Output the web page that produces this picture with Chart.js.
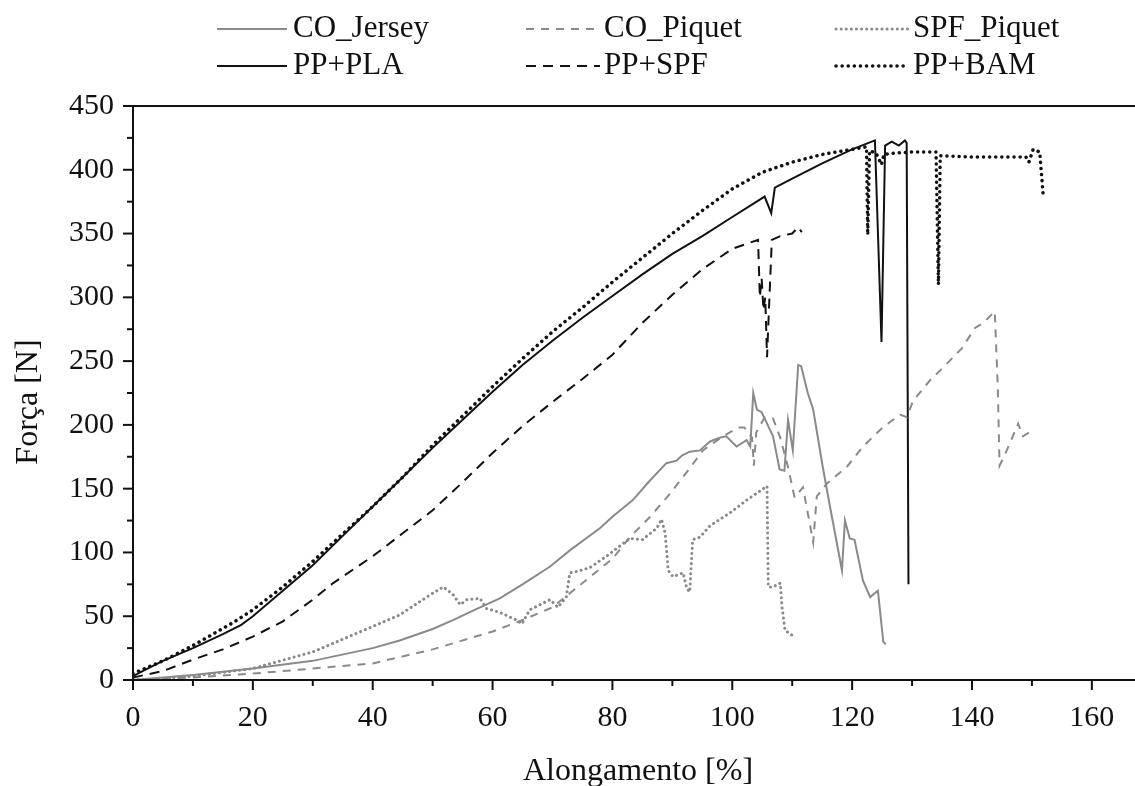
<!DOCTYPE html>
<html lang="pt">
<head>
<meta charset="utf-8">
<title>Força x Alongamento</title>
<script src="https://cdn.jsdelivr.net/npm/chart.js@4/dist/chart.umd.min.js"></script>
<style>
  html, body { margin: 0; padding: 0; background: #fff; }
  #wrap { width: 1135px; height: 786px; }
</style>
</head>
<body>
<div id="wrap"><canvas id="forceChart" width="1135" height="786"></canvas></div>
<script>
/* ================================
   Data
================================ */
const xTicks = [0, 20, 40, 60, 80, 100, 120, 140, 160];
const yTicks = [0, 50, 100, 150, 200, 250, 300, 350, 400, 450];

const coJerseyX = [0, 10, 20, 30, 40, 44.5, 50, 53.4, 57, 61.2, 65, 69.6, 73, 77.9, 80, 83.4, 86, 89, 90.7, 91.6, 92.9, 94.6, 96.3, 97.9, 99, 100.7, 102.4, 103, 103.5, 104.1, 104.9, 106.8, 107.9, 108.7, 109.3, 110.1, 111, 111.5, 112.6, 113.5, 115.1, 116.3, 118.3, 118.8, 119.6, 120.4, 121.8, 123, 124.3, 125.2, 125.6];
const coJerseyY = [0, 4, 9, 15, 25, 31, 40, 47, 55, 64, 75, 89, 102, 119, 128, 141, 155, 170, 172, 176, 179, 180, 187, 190, 191, 183, 188, 183, 225, 212, 210, 191, 165, 164, 204, 180, 247, 246, 225, 212, 167, 136, 86, 125, 111, 110, 78, 65, 70, 30, 28];

const coPiquetX = [0, 10, 20, 30, 40, 50, 60, 65, 70, 75, 80, 82.9, 86.3, 89.6, 92.9, 95.1, 98.4, 101, 102, 103.3, 103.6, 104, 105.4, 106.8, 108, 109.3, 110.4, 111.8, 113.5, 114.1, 115.8, 119.1, 121.8, 125.1, 128, 129.1, 130.2, 133, 135.2, 138.3, 140.5, 141.9, 143.8, 144.3, 144.6, 145.8, 147.7, 148.5, 150.2];
const coPiquetY = [0, 2, 5, 9, 13, 24, 38, 47, 57, 76, 95, 112, 128, 146, 166, 180, 191, 198, 198, 190, 168, 194, 206, 205, 190, 167, 143, 151, 108, 144, 154, 167, 183, 198, 208, 206, 219, 235, 245, 260, 276, 280, 289, 230, 168, 180, 201, 191, 196];

const spfPiquetX = [0, 5, 10, 20, 30, 40, 44.5, 50, 51.8, 53.4, 54.6, 55.7, 57.9, 59, 61.2, 64, 64.9, 66.2, 69.6, 70.9, 72.3, 72.9, 74, 76.2, 79, 82.9, 85, 87.4, 88.2, 88.8, 89.3, 90.1, 91.8, 92.4, 92.9, 93.4, 94.6, 96.3, 99.6, 102.4, 105.8, 106, 106.8, 108, 108.3, 108.8, 110];
const spfPiquetY = [0, 1, 3, 9, 22, 42, 51, 68, 73, 67, 59, 63, 64, 56, 53, 47, 44, 55, 63, 57, 65, 84, 85, 88, 97, 111, 110, 119, 126, 115, 86, 81, 84, 72, 69, 110, 112, 121, 131, 141, 152, 73, 73, 76, 57, 39, 35];

const ppPlaX = [0, 2, 5, 10, 15, 18, 20, 25, 30, 35, 40, 45, 50, 55, 60, 65, 70, 75, 80, 85, 90, 95, 100, 105.4, 106.5, 107.1, 110, 115, 120, 123.8, 124.9, 125.5, 126.6, 127.8, 128.8, 129.1, 129.4];
const ppPlaY = [3, 8, 15, 25, 36, 43, 50, 70, 90, 113, 136, 159, 182, 204, 226, 247, 266, 284, 301, 318, 334, 348, 363, 379, 366, 386, 393, 405, 416, 423, 265, 419, 422, 419, 423, 421, 75];

const ppSpfX = [0, 5, 10, 15, 20, 25, 30, 33.4, 40, 45, 50, 55, 60, 65, 70, 75, 80, 85, 90, 95, 100, 103, 104.3, 104.6, 104.9, 105.2, 105.5, 105.8, 106.2, 106.6, 108, 110, 111, 111.6];
const ppSpfY = [2, 7, 16, 24, 34, 46, 63, 76, 97, 115, 133, 155, 178, 199, 218, 236, 255, 280, 302, 322, 338, 343, 345, 300, 315, 290, 300, 253, 300, 345, 348, 350, 355, 351];

const ppBamX = [0, 5, 10, 16.7, 20, 25, 30, 40, 45, 50, 55, 60, 65, 70, 75, 80, 85, 90, 95, 100, 105, 110, 115, 120, 122.4, 122.6, 122.9, 124, 124.9, 125.3, 127, 130, 134, 134.4, 134.7, 140, 145, 149, 149.5, 150.2, 151.3, 151.9];
const ppBamY = [5, 15, 27, 45, 55, 73, 93, 136, 159, 184, 207, 230, 252, 273, 292, 312, 331, 350, 368, 385, 398, 406, 412, 416, 418, 349, 415, 413, 404, 412, 413, 414, 414, 310, 411, 410, 410, 410, 406, 416, 414, 379];

/* ================================
   Styles
================================ */
const GRAY = "#8a8a8a";
const BLACK = "#111111";
const SERIF = '"Liberation Serif", "DejaVu Serif", serif';

const seriesDefs = [
  { label: "CO_Jersey",  xs: coJerseyX,  ys: coJerseyY,  color: GRAY,  width: 2,   dash: [],       cap: "butt"  },
  { label: "CO_Piquet",  xs: coPiquetX,  ys: coPiquetY,  color: GRAY,  width: 2,   dash: [8, 7],   cap: "butt"  },
  { label: "SPF_Piquet", xs: spfPiquetX, ys: spfPiquetY, color: GRAY,  width: 3,   dash: [0.1, 5], cap: "round" },
  { label: "PP+PLA",     xs: ppPlaX,     ys: ppPlaY,     color: BLACK, width: 2,   dash: [],       cap: "butt"  },
  { label: "PP+SPF",     xs: ppSpfX,     ys: ppSpfY,     color: BLACK, width: 2,   dash: [10, 7],  cap: "butt"  },
  { label: "PP+BAM",     xs: ppBamX,     ys: ppBamY,     color: BLACK, width: 3.5, dash: [0.1, 6], cap: "round" }
];

// legend slots: [lineStart, lineEnd, textX, rowY]
const legendSlots = [
  [217, 287, 293, 29], [526, 600, 604, 29], [836, 908, 913, 29],
  [217, 287, 293, 66], [526, 600, 604, 66], [836, 908, 913, 66]
];

/* ================================
   Axes / legend plugin
================================ */
const frameAxes = {
  id: "frameAxes",
  afterDraw(chart) {
    const { ctx, chartArea: a, scales } = chart;
    const xs = scales.x, ys = scales.y;
    ctx.save();
    ctx.strokeStyle = BLACK;
    ctx.fillStyle = BLACK;
    ctx.lineWidth = 2;

    // frame: left, bottom, top
    ctx.beginPath();
    ctx.moveTo(a.left, a.top);
    ctx.lineTo(a.left, a.bottom);
    ctx.lineTo(a.right, a.bottom);
    ctx.moveTo(a.left, a.top);
    ctx.lineTo(a.right, a.top);
    ctx.stroke();

    // y ticks, every 25
    for (let v = 0; v <= 450; v += 25) {
      const y = ys.getPixelForValue(v);
      const len = v % 50 === 0 ? 10 : 6;
      ctx.beginPath();
      ctx.moveTo(a.left - len, y);
      ctx.lineTo(a.left, y);
      ctx.stroke();
    }
    // x ticks, every 10
    for (let v = 0; v <= 160; v += 10) {
      const x = xs.getPixelForValue(v);
      const len = v % 20 === 0 ? 10 : 6;
      ctx.beginPath();
      ctx.moveTo(x, a.bottom);
      ctx.lineTo(x, a.bottom + len);
      ctx.stroke();
    }

    // tick labels
    ctx.font = "30px " + SERIF;
    ctx.textAlign = "right";
    ctx.textBaseline = "middle";
    yTicks.forEach(v => ctx.fillText(String(v), a.left - 19, ys.getPixelForValue(v)));
    ctx.textAlign = "center";
    xTicks.forEach(v => ctx.fillText(String(v), xs.getPixelForValue(v), a.bottom + 38));

    // axis titles
    ctx.font = "32px " + SERIF;
    ctx.fillText("Alongamento [%]", 638, 772);
    ctx.save();
    ctx.translate(29, (a.top + a.bottom) / 2 + 9);
    ctx.rotate(-Math.PI / 2);
    ctx.fillText("Força [N]", 0, 0);
    ctx.restore();

    // legend
    ctx.font = "31px " + SERIF;
    ctx.textAlign = "left";
    seriesDefs.forEach((s, i) => {
      const [x0, x1, tx, y] = legendSlots[i];
      ctx.save();
      ctx.strokeStyle = s.color;
      ctx.lineWidth = s.width;
      ctx.lineCap = s.cap;
      ctx.setLineDash(s.dash);
      ctx.beginPath();
      ctx.moveTo(x0, y);
      ctx.lineTo(x1, y);
      ctx.stroke();
      ctx.restore();
      ctx.fillText(s.label, tx, y);
    });

    ctx.restore();
  }
};

/* ================================
   Chart
================================ */
function buildDatasets() {
  return seriesDefs.map(s => ({
    label: s.label,
    data: s.xs.map((x, i) => ({ x, y: s.ys[i] })),
    borderColor: s.color,
    borderWidth: s.width,
    borderDash: s.dash,
    borderCapStyle: s.cap,
    pointRadius: 0,
    tension: 0,
    fill: false
  }));
}

new Chart(document.getElementById("forceChart"), {
  type: "line",
  data: { datasets: buildDatasets() },
  options: {
    responsive: false,
    animation: false,
    layout: { padding: { left: 133, right: 0, top: 106, bottom: 106 } },
    plugins: {
      legend: { display: false },
      tooltip: { enabled: false }
    },
    scales: {
      x: { type: "linear", min: 0, max: 167.2, display: false },
      y: { type: "linear", min: 0, max: 450, display: false }
    }
  },
  plugins: [frameAxes]
});
</script>
</body>
</html>
